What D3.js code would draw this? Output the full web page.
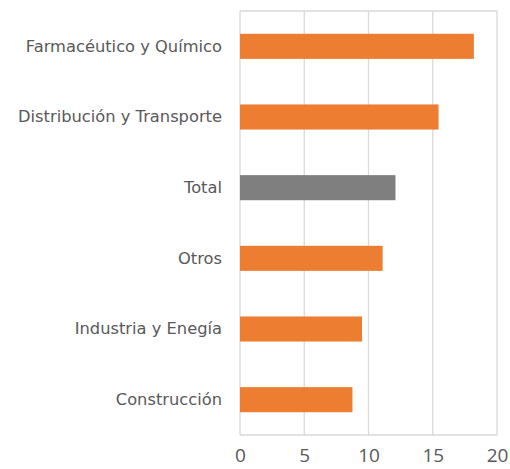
<!DOCTYPE html>
<html>
<head>
<meta charset="utf-8">
<script src="https://cdn.jsdelivr.net/npm/d3@7"></script>
<style>
  body { margin: 0; background: #fff; }
  text { fill: #595959; }
</style>
</head>
<body>
<div id="chart-container"></div>
<script>
// Categories from top to bottom, with their values
const categories = ["Farmacéutico y Químico", "Distribución y Transporte", "Total", "Otros", "Industria y Enegía", "Construcción"];
const values = [18.2, 15.45, 12.1, 11.1, 9.5, 8.75];
const barColors = ["#ED7D31", "#ED7D31", "#7F7F7F", "#ED7D31", "#ED7D31", "#ED7D31"];
const xTicks = [0, 5, 10, 15, 20];

const data = categories.map((c, i) => ({ name: c, value: values[i], color: barColors[i] }));

// Plot area box
const margin = { top: 11, right: 13, bottom: 34, left: 240 };
const totalW = 510, totalH = 469;
const width = totalW - margin.left - margin.right;
const height = totalH - margin.top - margin.bottom;

const svg = d3.select("#chart-container")
    .append("svg")
    .attr("width", totalW)
    .attr("height", totalH)
    .append("g")
    .attr("transform", `translate(${margin.left},${margin.top})`);

const xScale = d3.scaleLinear()
    .domain([0, 20])
    .range([0, width]);

const yScale = d3.scaleBand()
    .domain(categories)
    .range([0, height])
    .paddingInner(0.645)
    .paddingOuter(0.3225);

// Vertical gridlines
svg.selectAll(".grid")
    .data(xTicks)
    .enter()
    .append("line")
    .attr("class", "grid")
    .attr("x1", d => xScale(d))
    .attr("x2", d => xScale(d))
    .attr("y1", 0)
    .attr("y2", height)
    .attr("stroke", "#D9D9D9")
    .attr("stroke-width", 1.3);

// Top and bottom border of the plot area
svg.selectAll(".border")
    .data([0, height])
    .enter()
    .append("line")
    .attr("class", "border")
    .attr("x1", 0)
    .attr("x2", width)
    .attr("y1", d => d)
    .attr("y2", d => d)
    .attr("stroke", "#D9D9D9")
    .attr("stroke-width", 1.3);

// Bars
svg.selectAll("rect")
    .data(data)
    .enter()
    .append("rect")
    .attr("x", xScale(0))
    .attr("y", d => yScale(d.name))
    .attr("width", d => xScale(d.value) - xScale(0))
    .attr("height", yScale.bandwidth())
    .attr("fill", d => d.color);

// Category labels
const yAxis = svg.append("g")
    .call(d3.axisLeft(yScale).tickSize(0).tickPadding(18));
yAxis.select(".domain").remove();
yAxis.selectAll("text")
    .attr("font-size", "16.3px")
    .style("font-family", "'DejaVu Sans', sans-serif")
    .attr("fill", "#595959");

// Value axis labels
const xAxis = svg.append("g")
    .attr("transform", `translate(0, ${height})`)
    .call(d3.axisBottom(xScale).tickValues(xTicks).tickSize(0).tickPadding(14));
xAxis.select(".domain").remove();
xAxis.selectAll("text")
    .attr("font-size", "19px")
    .style("font-family", "'Open Sans', sans-serif")
    .attr("fill", "#595959");
</script>
</body>
</html>
